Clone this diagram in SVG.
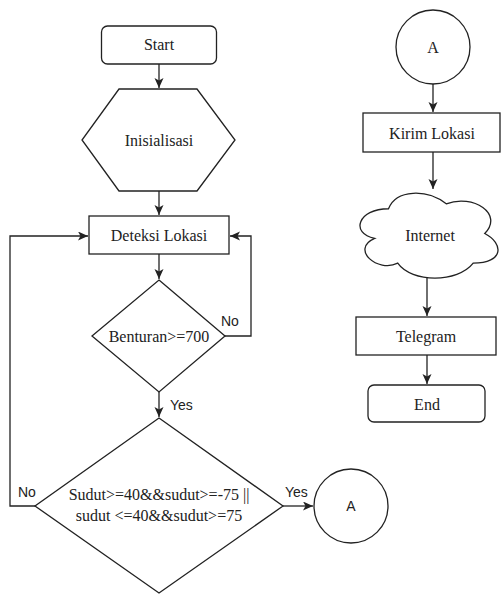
<svg xmlns="http://www.w3.org/2000/svg" width="501" height="594" viewBox="0 0 501 594">
<style>
.s{fill:#fff;stroke:#222;stroke-width:1.3}
.t{font-family:'Times New Roman',Times,'Liberation Serif','Noto Serif','DejaVu Serif',Tinos,serif;font-size:16px;fill:#222;text-anchor:middle;dominant-baseline:central}
.l{font-family:'Liberation Sans',Arial,sans-serif;font-size:14px;fill:#222;dominant-baseline:central}
.c{fill:none;stroke:#222;stroke-width:1.3}
</style>
<defs>
<marker id="ah" markerUnits="userSpaceOnUse" markerWidth="12" markerHeight="10" refX="10" refY="4.5" orient="auto">
<path d="M0,0 L10,4.5 L0,9 L2.5,4.5 Z" fill="#222"/>
</marker>
</defs>
<rect width="501" height="594" fill="#fff"/>
<g id="connectors">
<path class="c" d="M159,64 V88" marker-end="url(#ah)"/>
<path class="c" d="M159,191 V215" marker-end="url(#ah)"/>
<path class="c" d="M159,254 V279" marker-end="url(#ah)"/>
<path class="c" d="M225,336 H251 V236 H230" marker-end="url(#ah)"/>
<path class="c" d="M159,392 V417" marker-end="url(#ah)"/>
<path class="c" d="M35,506 H10 V236 H88" marker-end="url(#ah)"/>
<path class="c" d="M283,506 H313" marker-end="url(#ah)"/>
<path class="c" d="M433,84 V112" marker-end="url(#ah)"/>
<path class="c" d="M433,152 V189" marker-end="url(#ah)"/>
<path class="c" d="M427,278 V316" marker-end="url(#ah)"/>
<path class="c" d="M427,355 V384" marker-end="url(#ah)"/>
<text class="l" x="221" y="321">No</text>
<text class="l" x="170" y="405">Yes</text>
<text class="l" x="18" y="492">No</text>
<text class="l" x="285" y="492">Yes</text>
</g>
<g id="start">
<rect class="s" x="101.5" y="26" width="115" height="38" rx="6"/>
<text class="t" x="159" y="44">Start</text>
</g>
<g id="inisialisasi">
<polygon class="s" points="119,89 197,89 235,140 197,191 119,191 82,140"/>
<text class="t" x="159" y="140">Inisialisasi</text>
</g>
<g id="deteksi">
<rect class="s" x="89" y="216" width="140" height="38"/>
<text class="t" x="159" y="235">Deteksi Lokasi</text>
</g>
<g id="benturan">
<polygon class="s" points="159,280 225,336 159,392 92,336"/>
<text class="t" x="159" y="336">Benturan&gt;=700</text>
</g>
<g id="sudut">
<polygon class="s" points="159,418 283,506 159,593 35,506"/>
<text class="t" x="159" y="494">Sudut&gt;=40&amp;&amp;sudut&gt;=-75 ||</text>
<text class="t" x="159" y="515">sudut &lt;=40&amp;&amp;sudut&gt;=75</text>
</g>
<g id="connA1">
<circle class="s" cx="351" cy="506" r="37"/>
<text class="l" x="351" y="506" text-anchor="middle">A</text>
</g>
<g id="connA2">
<circle class="s" cx="433" cy="47" r="37"/>
<text class="t" x="433" y="47">A</text>
</g>
<g id="kirim">
<rect class="s" x="363" y="113" width="137" height="39"/>
<text class="t" x="432" y="133">Kirim Lokasi</text>
</g>
<g id="internet">
<path class="s" d="M388.5,208.75 C357.7,208.75 350,233.5 374.64,238.45 C350,249.34 377.72,273.1 397.74,263.2 C411.6,283 457.8,283 473.2,263.2 C504,263.2 504,243.4 484.75,233.5 C504,213.7 473.2,193.9 446.25,203.8 C427,188.95 396.2,188.95 388.5,208.75 Z"/>
<text class="t" x="430" y="235">Internet</text>
</g>
<g id="telegram">
<rect class="s" x="356" y="317" width="140" height="38"/>
<text class="t" x="426" y="336">Telegram</text>
</g>
<g id="end">
<rect class="s" x="368" y="385" width="117" height="37" rx="6"/>
<text class="t" x="427" y="404">End</text>
</g>
</svg>
